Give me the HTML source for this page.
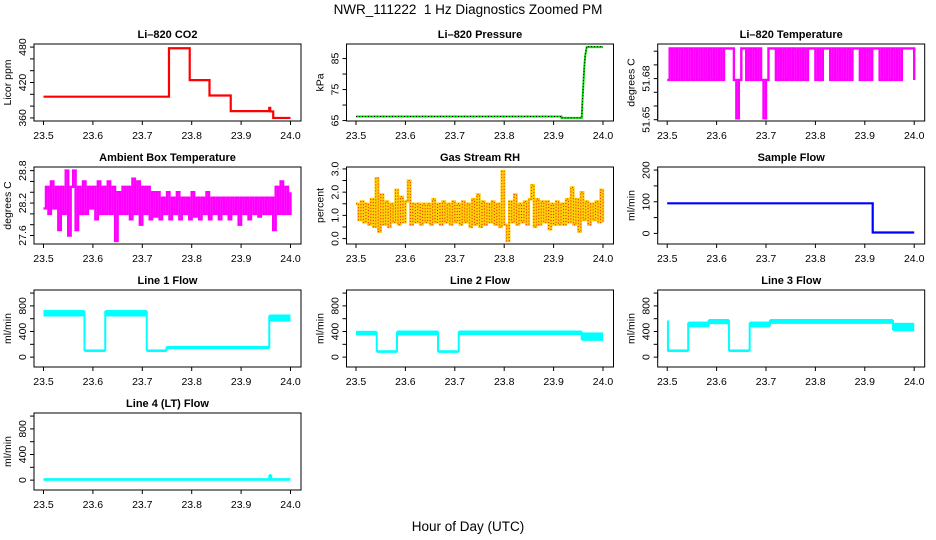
<!DOCTYPE html>
<html><head><meta charset="utf-8"><style>
html,body{margin:0;padding:0;background:#fff;}
svg{display:block;font-family:"Liberation Sans",sans-serif;}
</style></head><body>
<svg id="c" width="936" height="540" viewBox="0 0 936 540">
<text x="468" y="14" font-size="13.5" text-anchor="middle">NWR_111222&#160; 1 Hz Diagnostics Zoomed PM</text>
<text x="468" y="531" font-size="13.5" text-anchor="middle">Hour of Day (UTC)</text>
</svg>
<script>
// ---- data ----
const xTicks = [23.5, 23.6, 23.7, 23.8, 23.9, 24.0];
const xTickLabels = ["23.5", "23.6", "23.7", "23.8", "23.9", "24.0"];

const co2Times = [23.5, 23.754, 23.796, 23.836, 23.879, 23.957, 23.959, 23.965, 24.0];
const co2Vals = [396, 478, 424, 398, 371.5, 377, 371, 360, 360];

const presTimes = [23.5, 23.916, 23.916, 23.957, 23.958, 23.960, 23.962, 23.964, 23.967, 24.0];
const presVals = [66.3, 66.3, 65.85, 65.85, 70, 76, 82, 86, 88.7, 88.7];

const tempStart = 23.5, tempStep = 0.005;
const tempVals = [51.679,51.702,51.679,51.702,51.679,51.702,51.679,51.702,51.679,51.702,
51.679,51.702,51.679,51.702,51.679,51.702,51.679,51.702,51.679,51.702,
51.679,51.702,51.679,51.702,51.702,51.702,51.702,51.679,51.651,51.679,
51.702,51.702,51.679,51.702,51.679,51.702,51.679,51.702,51.679,51.651,
51.679,51.702,51.702,51.702,51.679,51.702,51.679,51.702,51.679,51.702,
51.679,51.702,51.679,51.702,51.679,51.702,51.679,51.702,51.702,51.702,
51.679,51.702,51.679,51.702,51.702,51.702,51.679,51.702,51.679,51.702,
51.679,51.702,51.679,51.702,51.679,51.702,51.702,51.702,51.679,51.702,
51.679,51.702,51.679,51.702,51.702,51.702,51.679,51.702,51.679,51.702,
51.679,51.702,51.679,51.702,51.679,51.702,51.702,51.702,51.702,51.702,51.679];

const ambStart = 23.5, ambStep = 0.005;
const ambVals = [28.1,28.5,28.0,28.6,28.1,28.5,27.7,28.5,28.0,28.8,
27.6,28.5,28.8,27.7,28.5,28.0,28.6,28.0,28.5,28.1,
28.5,27.9,28.6,28.0,28.5,28.0,28.6,28.0,28.5,27.5,
28.4,28.0,28.5,28.0,28.5,27.9,28.65,28.0,28.6,27.8,
28.5,28.0,28.5,27.9,28.4,27.95,28.4,27.9,28.3,28.0,
28.4,27.9,28.3,28.0,28.4,27.9,28.3,28.0,28.3,27.9,
28.4,27.95,28.3,27.9,28.3,28.0,28.4,27.9,28.3,28.0,
28.3,27.9,28.3,28.0,28.3,27.9,28.3,28.0,28.3,27.8,
28.3,28.0,28.3,27.9,28.3,28.0,28.3,27.95,28.3,28.0,
28.3,28.0,28.3,27.7,28.5,28.0,28.6,28.0,28.5,28.0,28.4];

const rhStart = 23.5, rhStep = 0.005;
const rhVals = [1.5,0.8,1.6,0.7,1.5,0.6,1.7,0.5,2.6,0.3,
1.9,0.6,1.6,0.5,1.5,0.7,2.1,0.6,1.8,0.7,
1.6,2.5,0.6,1.5,0.7,1.5,0.6,1.5,0.7,1.5,
0.6,1.7,0.7,1.5,0.6,1.6,0.7,1.5,0.6,1.6,
0.7,1.5,0.6,1.6,0.7,1.5,0.5,1.7,0.6,1.9,
0.5,1.6,0.6,1.5,0.7,1.6,0.6,1.5,0.5,2.9,
0.6,-0.1,1.6,0.7,1.9,0.6,1.5,0.7,1.6,0.6,
1.7,2.3,0.5,1.7,0.6,1.6,0.7,1.6,0.4,1.5,
0.6,1.6,0.6,1.5,0.6,1.7,0.7,2.2,0.6,1.7,
0.3,2.0,0.8,1.6,0.6,1.5,0.8,1.6,0.7,2.1,0.7];

const sfTimes = [23.5, 23.916, 23.916, 24.0];
const sfVals = [95, 95, 3, 3];

const l1Starts = [23.5, 23.583, 23.625, 23.709, 23.749, 23.957];
const l1Lo = [650, 95, 650, 95, 140, 570];
const l1Hi = [720, 105, 720, 105, 160, 650];

const l2Starts = [23.5, 23.542, 23.583, 23.666, 23.708, 23.957];
const l2Lo = [355, 82, 355, 82, 360, 270];
const l2Hi = [395, 92, 400, 92, 400, 370];

const l3Starts = [23.5, 23.5015, 23.5425, 23.584, 23.625, 23.667, 23.708, 23.957];
const l3Lo = [100, 95, 480, 530, 95, 480, 535, 420];
const l3Hi = [560, 105, 540, 580, 105, 540, 580, 520];

const l4Starts = [23.5, 23.957, 23.961];
const l4Lo = [5, 5, 5];
const l4Hi = [15, 80, 15];

const flowTicks = [0, 200, 400, 600, 800, 1000];
const flowLabels = ["0", "", "400", "", "800", ""];

// ---- layout ----
const NS = "http://www.w3.org/2000/svg";
const svg = document.getElementById("c");
const colLeft = [34, 346.5, 657.7];
const rowTop = [44, 167, 290, 413];
const W = 267, H = 77;

function mk(tag, attrs, parent) {
  const e = document.createElementNS(NS, tag);
  for (const k in attrs) e.setAttribute(k, attrs[k]);
  (parent || svg).appendChild(e);
  return e;
}

function panel(name, col, row, title, ylab, ylo, yhi, yt, ytl) {
  const L = colLeft[col], T = rowTop[row];
  const g = mk("g", {});
  
  
  const X = t => L + 9.5 + (t - 23.5) * 494;
  const Y = v => T + H * 0.04 + (yhi - v) / (yhi - ylo) * H * 0.92;
  const box = mk("rect", {x: L, y: T, width: W, height: H, fill: "none", stroke: "#000", "stroke-width": 1}, g);
  
  
  const tt = mk("text", {x: L + W / 2, y: T - 6, "font-size": 11, "font-weight": "bold", "text-anchor": "middle"}, g);
  tt.textContent = title;
  
  
  const xa = mk("g", {}, g);
  
  
  mk("line", {x1: X(xTicks[0]), x2: X(xTicks[xTicks.length - 1]), y1: T + H, y2: T + H, stroke: "#000"}, xa);
  xTicks.forEach((t, i) => {
    mk("line", {x1: X(t), x2: X(t), y1: T + H, y2: T + H + 4, stroke: "#000"}, xa);
    const lb = mk("text", {x: X(t), y: T + H + 18, "font-size": 10.5, "text-anchor": "middle"}, xa);
    lb.textContent = xTickLabels[i];
    
    
  });
  const ya = mk("g", {}, g);
  
  
  mk("line", {x1: L, x2: L, y1: Y(yt[0]), y2: Y(yt[yt.length - 1]), stroke: "#000"}, ya);
  yt.forEach((v, i) => {
    mk("line", {x1: L - 4, x2: L, y1: Y(v), y2: Y(v), stroke: "#000"}, ya);
    if (ytl[i]) {
      const lb = mk("text", {x: 0, y: 0, "font-size": 10.5, "text-anchor": "middle",
        transform: `translate(${L - 8},${Y(v)}) rotate(-90)`}, ya);
      lb.textContent = ytl[i];
      
      
    }
  });
  const yl = mk("text", {x: 0, y: 0, "font-size": 10.5, "text-anchor": "middle",
    transform: `translate(${L - 23},${T + H / 2}) rotate(-90)`}, g);
  yl.textContent = ylab;
  
  
  return {g, X, Y};
}

function stepPath(X, Y, start, step, vals) {
  let d = "";
  vals.forEach((v, i) => {
    const x = X(start + i * step), y = Y(v);
    if (i === 0) d += `M${x},${y}`;
    else d += `V${y}`;
    d += `H${X(Math.min(24, start + (i + 1) * step))}`;
  });
  return d;
}
function linePath(X, Y, ts, vs) {
  return ts.map((t, i) => (i ? "L" : "M") + X(t) + "," + Y(vs[i])).join("");
}
function bandSeries(p, name, starts, lo, hi, color) {
  const g = mk("g", {}, p.g);
  
  
  starts.forEach((s, i) => {
    const e = i + 1 < starts.length ? starts[i + 1] : 24.0;
    const yTop = p.Y(hi[i]) - 1, yBot = p.Y(lo[i]) + 1;
    const r = mk("rect", {x: p.X(s), y: yTop, width: Math.max(1.5, p.X(e) - p.X(s)), height: yBot - yTop, fill: color}, g);
    
    
    if (i > 0) {
      const a = Math.min(p.Y(hi[i]), p.Y(hi[i - 1])), b = Math.max(p.Y(lo[i]), p.Y(lo[i - 1]));
      mk("rect", {x: p.X(s) - 1, y: a, width: 2, height: b - a, fill: color}, g);
    }
  });
}

// Row 1
let p = panel("co2", 0, 0, "Li\u2013820 CO2", "Licor ppm", 360, 480, [360,380,400,420,440,460,480], ["360","","","420","","","480"]);
let s = mk("path", {d: linePath(p.X, p.Y, co2Times.flatMap((t,i)=> i? [t,t]:[t]), co2Times.flatMap((t,i)=> i? [co2Vals[i-1],co2Vals[i]]:[co2Vals[0]])), fill: "none", stroke: "#f00", "stroke-width": 2.2}, p.g);



p = panel("pressure", 1, 0, "Li\u2013820 Pressure", "kPa", 65.85, 88.7, [65,70,75,80,85], ["65","","75","","85"]);
s = mk("path", {d: linePath(p.X, p.Y, presTimes, presVals), fill: "none", stroke: "#00dd00", "stroke-width": 2}, p.g);


s = mk("path", {d: linePath(p.X, p.Y, presTimes, presVals.map(v => v > 88 ? 88.9 : v)), fill: "none", stroke: "#000", "stroke-width": 1, "stroke-dasharray": "1 2"}, p.g);



p = panel("li820-temp", 2, 0, "Li\u2013820 Temperature", "degrees C", 51.6513, 51.703, [51.65,51.66,51.67,51.68,51.69,51.70], ["51.65","","","51.68","",""]);
s = mk("path", {d: stepPath(p.X, p.Y, tempStart, tempStep, tempVals), fill: "none", stroke: "#ff00ff", "stroke-width": 2.4}, p.g);



// Row 2
p = panel("ambient", 0, 1, "Ambient Box Temperature", "degrees C", 27.50, 28.81, [27.6,27.8,28.0,28.2,28.4,28.6,28.8], ["27.6","","","28.2","","","28.8"]);
s = mk("path", {d: stepPath(p.X, p.Y, ambStart, ambStep, ambVals), fill: "none", stroke: "#ff00ff", "stroke-width": 2.4}, p.g);



p = panel("rh", 1, 1, "Gas Stream RH", "percent", -0.10, 2.95, [0,0.5,1,1.5,2,2.5,3], ["0.0","","1.0","","2.0","","3.0"]);
s = mk("path", {d: stepPath(p.X, p.Y, rhStart, rhStep, rhVals), fill: "none", stroke: "#ffcc00", "stroke-width": 2.4}, p.g);


s = mk("path", {d: stepPath(p.X, p.Y, rhStart, rhStep, rhVals), fill: "none", stroke: "#ee2200", "stroke-width": 1, "stroke-dasharray": "1 2"}, p.g);



p = panel("sample-flow", 2, 1, "Sample Flow", "ml/min", -23.7, 200, [0,50,100,150,200], ["0","","100","","200"]);
s = mk("path", {d: linePath(p.X, p.Y, sfTimes, sfVals), fill: "none", stroke: "#0000ff", "stroke-width": 2.2}, p.g);



// Row 3 & 4
p = panel("line1", 0, 2, "Line 1 Flow", "ml/min", -106, 1000, flowTicks, flowLabels);
bandSeries(p, "line1-flow", l1Starts, l1Lo, l1Hi, "#00ffff");
p = panel("line2", 1, 2, "Line 2 Flow", "ml/min", -106, 1000, flowTicks, flowLabels);
bandSeries(p, "line2-flow", l2Starts, l2Lo, l2Hi, "#00ffff");
p = panel("line3", 2, 2, "Line 3 Flow", "ml/min", -106, 1000, flowTicks, flowLabels);
bandSeries(p, "line3-flow", l3Starts, l3Lo, l3Hi, "#00ffff");
p = panel("line4", 0, 3, "Line 4 (LT) Flow", "ml/min", -106, 1000, flowTicks, flowLabels);
bandSeries(p, "line4-flow", l4Starts, l4Lo, l4Hi, "#00ffff");
</script>
</body></html>
